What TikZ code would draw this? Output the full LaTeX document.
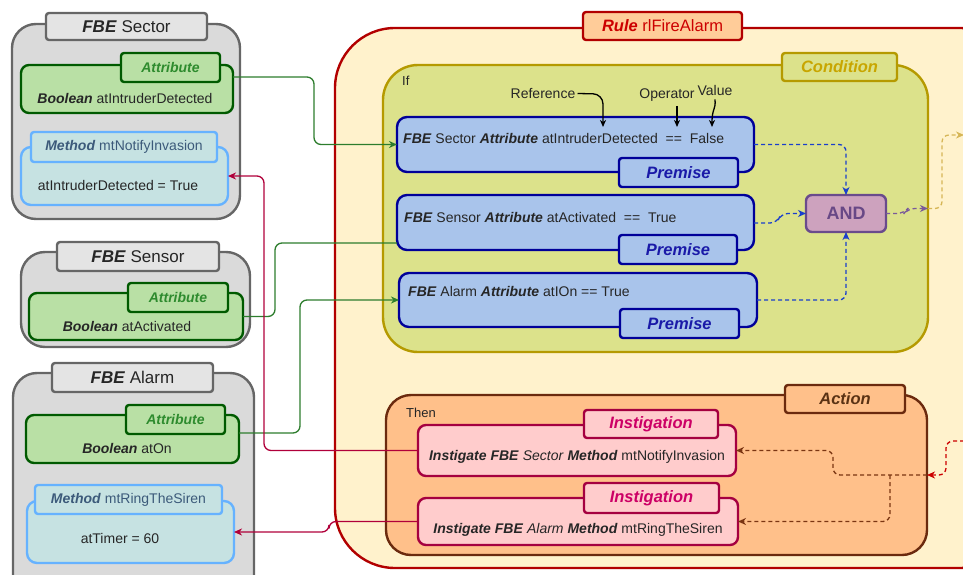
\documentclass[tikz,border=0pt]{standalone}
\usepackage{fontspec}
\setmainfont{Liberation Sans}
\usetikzlibrary{arrows.meta,calc}

\definecolor{grpFill}{HTML}{DADADA}
\definecolor{grpTab}{HTML}{E4E4E4}
\definecolor{grpLine}{HTML}{666666}
\definecolor{attrFill}{HTML}{B9E0A5}
\definecolor{attrLine}{HTML}{005A00}
\definecolor{attrTxt}{HTML}{2E8B2E}
\definecolor{methFill}{HTML}{C6E2E2}
\definecolor{methLine}{HTML}{66B2FF}
\definecolor{methTxt}{HTML}{3C5A7A}
\definecolor{ruleFill}{HTML}{FFF2CC}
\definecolor{ruleLine}{HTML}{B20000}
\definecolor{ruleTab}{HTML}{FFCC99}
\definecolor{ruleTxt}{HTML}{CC0000}
\definecolor{condFill}{HTML}{DCE28B}
\definecolor{condLine}{HTML}{B59A00}
\definecolor{condTxt}{HTML}{C8A600}
\definecolor{premFill}{HTML}{A9C4EB}
\definecolor{premLine}{HTML}{000099}
\definecolor{premTxt}{HTML}{1A1AA8}
\definecolor{andFill}{HTML}{CDA2BE}
\definecolor{andLine}{HTML}{6A4B8C}
\definecolor{andTxt}{HTML}{684886}
\definecolor{actFill}{HTML}{FFC08A}
\definecolor{actLine}{HTML}{6B2A0E}
\definecolor{actTxt}{HTML}{5A3214}
\definecolor{instFill}{HTML}{FFCCCC}
\definecolor{instLine}{HTML}{A50040}
\definecolor{instTxt}{HTML}{CC0066}
\definecolor{linkGreen}{HTML}{2D7D2D}
\definecolor{linkRed}{HTML}{B0003A}
\definecolor{flowBlue}{HTML}{1A3FCC}
\definecolor{flowPurple}{HTML}{7A5A9A}
\definecolor{flowGold}{HTML}{D6B656}
\definecolor{flowBrown}{HTML}{7A3512}
\definecolor{flowRed}{HTML}{CC0000}
\definecolor{txtDark}{HTML}{262626}

\newcommand\bxi[1]{\textbf{\textit{#1}}}
% rectangle node spanning (x1,y1)-(x2,y2): style, name, x1, y1, x2, y2, text
\newcommand\boxnode[7]{%
  \pgfmathsetmacro\bxw{#5-#3}\pgfmathsetmacro\bxh{#6-#4}%
  \node[#1, minimum width=\bxw pt, minimum height=\bxh pt]
    (#2) at ({(#3+#5)/2},{(#4+#6)/2}) {#7};}

\tikzset{
  box/.style={inner sep=0pt, outer sep=0pt, line width=2.4pt, line join=round, align=center},
  grp/.style={box, draw=grpLine, fill=grpFill, rounded corners=24pt},
  grptab/.style={box, draw=grpLine, fill=grpTab, rounded corners=3pt,
    font=\fontsize{17}{20}\selectfont, text=txtDark},
  attr/.style={box, draw=attrLine, fill=attrFill, rounded corners=8pt},
  attrtab/.style={box, draw=attrLine, fill=attrFill, rounded corners=3pt,
    font=\fontsize{14}{16}\selectfont, text=attrTxt},
  meth/.style={box, draw=methLine, fill=methFill, rounded corners=10pt},
  methtab/.style={box, draw=methLine, fill=methFill, rounded corners=3pt,
    font=\fontsize{14}{16}\selectfont, text=methTxt},
  rulebox/.style={box, draw=ruleLine, fill=ruleFill, rounded corners=60pt},
  ruletab/.style={box, draw=ruleLine, fill=ruleTab, rounded corners=3pt,
    font=\fontsize{16.5}{19}\selectfont, text=ruleTxt},
  cond/.style={box, draw=condLine, fill=condFill, rounded corners=35pt},
  condtab/.style={box, draw=condLine, fill=condFill, rounded corners=3pt,
    font=\fontsize{16.5}{19}\selectfont, text=condTxt},
  prem/.style={box, draw=premLine, fill=premFill, rounded corners=10pt},
  premtab/.style={box, draw=premLine, fill=premFill, rounded corners=3pt,
    font=\fontsize{16.5}{19}\selectfont, text=premTxt},
  andbox/.style={box, draw=andLine, fill=andFill, rounded corners=6pt,
    font=\fontsize{18}{21}\selectfont\bfseries, text=andTxt},
  act/.style={box, draw=actLine, fill=actFill, rounded corners=25pt},
  acttab/.style={box, draw=actLine, fill=actFill, rounded corners=3pt,
    font=\fontsize{16.5}{19}\selectfont, text=actTxt},
  inst/.style={box, draw=instLine, fill=instFill, rounded corners=8pt},
  insttab/.style={box, draw=instLine, fill=instFill, rounded corners=3pt,
    font=\fontsize{16.5}{19}\selectfont, text=instTxt},
  body/.style={font=\fontsize{14}{16}\selectfont, text=txtDark, inner sep=0pt, anchor=base},
  small/.style={font=\fontsize{13}{15}\selectfont, text=txtDark, inner sep=0pt, anchor=base west},
  tip/.style={-{Stealth[length=8pt,width=7pt,inset=2.5pt]}},
  link/.style={line width=1.3pt, rounded corners=7pt, tip},
  flow/.style={line width=1.3pt, dash pattern=on 4pt off 3pt, rounded corners=7pt, tip},
  note/.style={line width=1.3pt, black, rounded corners=10pt,
    -{Stealth[length=7pt,width=6pt,inset=2pt]}},
}

\begin{document}
\begin{tikzpicture}[x=1pt,y=-1pt]
\useasboundingbox (0,0) rectangle (963,575);
\clip (0,0) rectangle (963,575);

% ---------- rule container ----------
\boxnode{rulebox}{rule}{335}{28}{1020}{568}{}
\boxnode{ruletab}{ruleTab}{583}{12}{742}{40}{\bxi{Rule} rlFireAlarm}

% condition part
\boxnode{cond}{cond}{383}{65}{928}{352}{}
\boxnode{condtab}{condTab}{782}{53}{897}{81}{\bxi{Condition}}
\node[small] (ifLbl) at (402,86) {If};

% premises
\boxnode{prem}{prem1}{397}{117}{754}{172}{}
\boxnode{premtab}{prem1Tab}{619}{158}{738}{187}{\bxi{Premise}}
\boxnode{prem}{prem2}{397}{195}{754}{250}{}
\boxnode{premtab}{prem2Tab}{619}{235}{737}{264}{\bxi{Premise}}
\boxnode{prem}{prem3}{399}{273}{757}{327}{}
\boxnode{premtab}{prem3Tab}{620}{309}{739}{338}{\bxi{Premise}}

\node[body, anchor=base west] (prem1Txt) at (403,143)
  {\bxi{FBE} Sector \bxi{Attribute} atIntruderDetected\ \ ==\ \ False};
\node[body, anchor=base west] (prem2Txt) at (404,222)
  {\bxi{FBE} Sensor \bxi{Attribute} atActivated\ \ ==\ \ True};
\node[body, anchor=base west] (prem3Txt) at (408,296)
  {\bxi{FBE} Alarm \bxi{Attribute} atIOn == True};

\boxnode{andbox}{andBox}{806}{195}{886}{232}{AND}

% action part
\boxnode{act}{act}{386}{395}{927}{555}{}
\boxnode{acttab}{actTab}{785}{385}{905}{413}{\bxi{Action}}
\node[small] (thenLbl) at (406,417) {Then};

\boxnode{inst}{inst1}{418}{425}{736}{476}{}
\boxnode{insttab}{inst1Tab}{584}{410}{718}{438}{\bxi{Instigation}}
\boxnode{inst}{inst2}{418}{498}{738}{545}{}
\boxnode{insttab}{inst2Tab}{584}{483}{719}{513}{\bxi{Instigation}}
\node[body] (inst1Txt) at (577,460)
  {\bxi{Instigate FBE} \textit{Sector} \bxi{Method} mtNotifyInvasion};
\node[body] (inst2Txt) at (578,533)
  {\bxi{Instigate FBE} \textit{Alarm} \bxi{Method} mtRingTheSiren};

% ---------- entity groups ----------
\boxnode{grp}{secGrp}{12}{24}{240}{219}{}
\boxnode{grptab}{secTab}{46}{13}{207}{40}{\bxi{FBE} Sector}
\boxnode{attr}{secAttr}{21}{65}{233}{113}{}
\boxnode{attrtab}{secAttrTab}{121}{53}{220}{82}{\bxi{Attribute}}
\node[body] (secAttrTxt) at (125,103) {\bxi{Boolean} atIntruderDetected};
\boxnode{meth}{secMeth}{21}{147}{228}{205}{}
\boxnode{methtab}{secMethTab}{31}{132}{217}{162}{\bxi{Method} mtNotifyInvasion}
\node[body] (secMethTxt) at (118,190) {atIntruderDetected = True};

\boxnode{grp}{senGrp}{21}{252}{250}{347}{}
\boxnode{grptab}{senTab}{57}{242}{219}{271}{\bxi{FBE} Sensor}
\boxnode{attr}{senAttr}{29}{293}{243}{340}{}
\boxnode{attrtab}{senAttrTab}{128}{283}{228}{312}{\bxi{Attribute}}
\node[body] (senAttrTxt) at (127,331) {\bxi{Boolean} atActivated};

\boxnode{grp}{almGrp}{13}{373}{254}{610}{}
\boxnode{grptab}{almTab}{52}{363}{213}{392}{\bxi{FBE} Alarm}
\boxnode{attr}{almAttr}{26}{415}{239}{463}{}
\boxnode{attrtab}{almAttrTab}{126}{405}{225}{434}{\bxi{Attribute}}
\node[body] (almAttrTxt) at (127,453) {\bxi{Boolean} atOn};
\boxnode{meth}{almMeth}{27}{501}{234}{563}{}
\boxnode{methtab}{almMethTab}{35}{485}{222}{514}{\bxi{Method} mtRingTheSiren}
\node[body] (almMethTxt) at (120,543) {atTimer = 60};

% ---------- free ends and split points ----------
\coordinate (goldEnd) at (964,135);
\coordinate (redStart) at (964,441);
\coordinate (actSplit) at (890,475);
\coordinate (refTip) at (603,127);
\coordinate (opTip) at (677,127);
\coordinate (valTip) at (712,127);

% ---------- attribute references (green) ----------
\draw[link, linkGreen] ([yshift=-12pt]secAttr.north east) -- (314,77) -- (314,144.5) -- (prem1.west);
\draw[line width=1.3pt, rounded corners=7pt, linkGreen] (senAttr.east) -- (275,316.5) -- (275,243)
  -- ([yshift=-48pt]prem2.north west);
\draw[link, linkGreen] ([yshift=6pt]almAttr.east) -- (300,433) -- (300,300) -- (prem3.west);

% ---------- method calls (crimson) ----------
\draw[link, linkRed] (inst1.west) -- (264,450.5) -- (264,176) -- (secMeth.east);
\draw[link, linkRed] (inst2.west) -- (329,521.5) -- (329,532) -- (almMeth.east);

% ---------- condition flow ----------
\draw[flow, flowBlue] (prem1.east) -- (846,144.5) -- (andBox.north);
\draw[flow, flowBlue] ([yshift=-28pt]prem2.north east) -- (777,223) -- (781,213.5) -- (andBox.west);
\draw[flow, flowBlue] (prem3.east) -- (846,300) -- (andBox.south);
\draw[flow, flowPurple] (andBox.east) -- (904,213.5) -- (908,208.5) -- (cond.east);
\draw[flow, flowGold] (cond.east) -- (942,208.5) -- (942,135) -- (goldEnd);

% ---------- action flow ----------
\draw[flow, flowRed] (redStart) -- (946,441) -- (946,475) -- (act.east);
\draw[flow, flowBrown] (act.east) -- (833,475) -- (833,450.5) -- (inst1.east);
\draw[flow, flowBrown] (actSplit) -- (890,521.5) -- (inst2.east);

% ---------- premise annotations ----------
\node[body] (refLbl) at (543,98.5) {Reference};
\node[body] (opLbl) at (667,98.5) {Operator};
\node[body] (valLbl) at (715,96) {Value};
\draw[note] ([xshift=2pt]refLbl.east) -- (603,94) -- (refTip);
\draw[note] (677,106) -- (opTip);
\draw[note] ([yshift=-3pt]valLbl.south) .. controls (716,110) and (712,108) .. (valTip);

\end{tikzpicture}
\end{document}
